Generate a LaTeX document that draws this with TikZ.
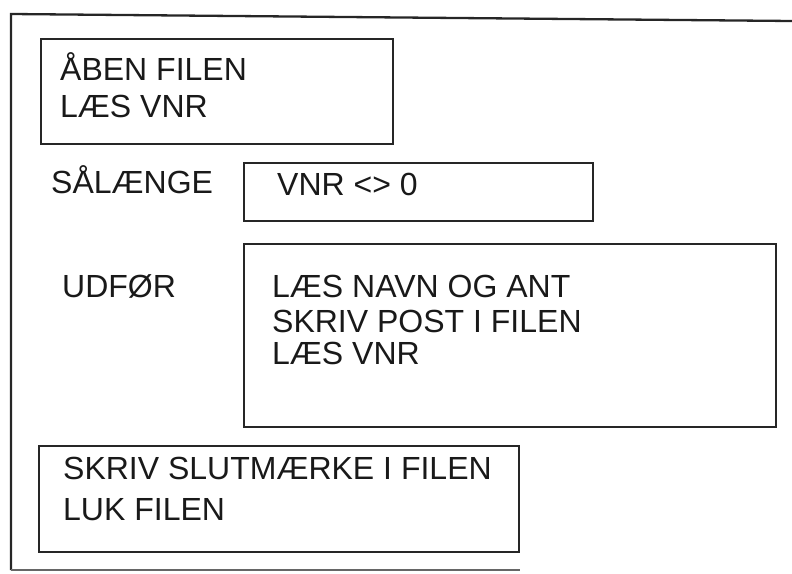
\documentclass[tikz,border=0pt]{standalone}
\usepackage{fontspec}
\setmainfont{Liberation Sans}
\begin{document}
\begin{tikzpicture}[x=1pt,y=-1pt,
  boxshape/.style={draw=black!85, line width=2.2pt, rectangle, inner sep=0pt, anchor=north west},
  txt/.style={anchor=base west, inner sep=0pt, font=\fontsize{32}{38}\selectfont, text=black!90}]
\useasboundingbox (0,0) rectangle (792,573);
% outer frame (open on the right)
\coordinate (ftr) at (792,21);
\coordinate (ftl) at (11,14);
\coordinate (fbl) at (11,570);
\coordinate (fbr) at (520,570);
\draw[line width=2.3pt, black!85] (ftr) -- (ftl) -- (fbl);
\draw[line width=2pt, black!60] (fbl) -- (fbr);
% boxes
\node[boxshape, minimum width=352pt, minimum height=105pt] (openbox) at (40,38) {};
\node[boxshape, minimum width=349pt, minimum height=58pt] (condbox) at (243,162) {};
\node[boxshape, minimum width=532pt, minimum height=183pt] (bodybox) at (243,243) {};
\node[boxshape, minimum width=480pt, minimum height=106pt] (endbox) at (38,445) {};
% texts
\node[txt] (t1) at (60,80) {ÅBEN FILEN};
\node[txt] (t2) at (60,117) {LÆS VNR};
\node[txt] (kw1) at (51,193) {SÅLÆNGE};
\node[txt] (t3) at (277,195) {VNR <> 0};
\node[txt] (kw2) at (62,297) {UDFØR};
\node[txt] (t4) at (272,297) {LÆS NAVN OG ANT};
\node[txt] (t5) at (272,332) {SKRIV POST I FILEN};
\node[txt] (t6) at (272,364) {LÆS VNR};
\node[txt] (t7) at (63,479) {SKRIV SLUTMÆRKE I FILEN};
\node[txt] (t8) at (63,520) {LUK FILEN};
\end{tikzpicture}
\end{document}
